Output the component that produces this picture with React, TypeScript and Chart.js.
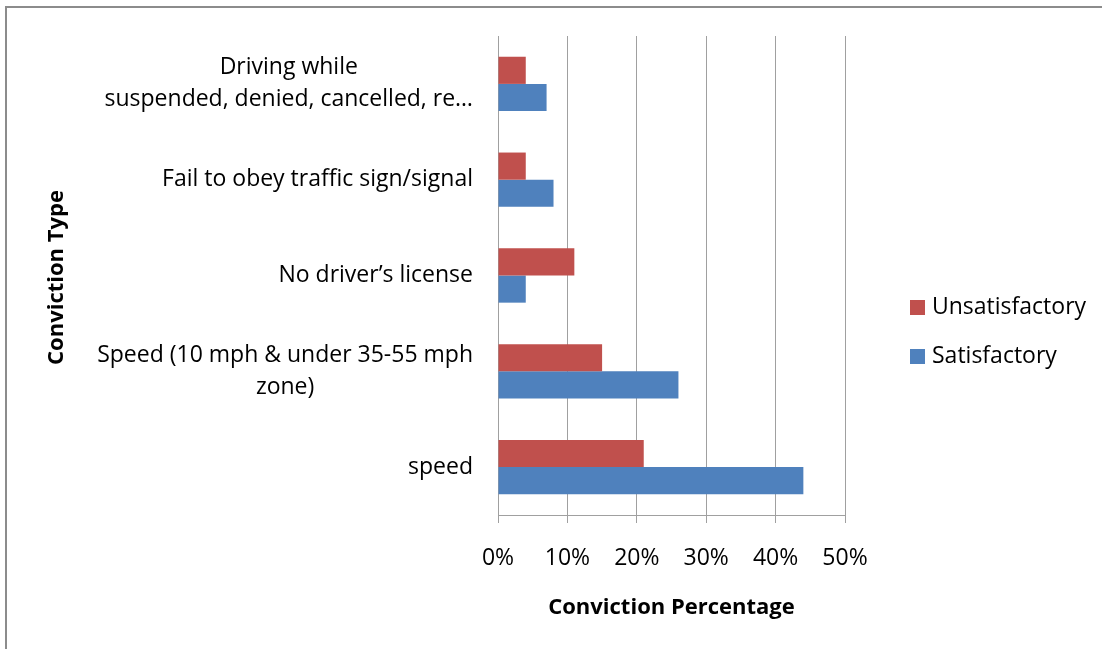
import React, { useEffect, useRef } from "react";
import { Chart, registerables } from "chart.js";

Chart.register(...registerables);

const categoryLines: string[][] = [
  ["Driving while", "suspended, denied, cancelled, re…"],
  ["Fail to obey traffic sign/signal"],
  ["No driver’s license"],
  ["Speed (10 mph & under 35-55 mph", "zone)"],
  ["speed"],
];
const categories = categoryLines.map((l) => l.join(" "));
const seriesNames = ["Unsatisfactory", "Satisfactory"];
const unsatisfactory = [4, 4, 11, 15, 21];
const satisfactory = [7, 8, 4, 26, 44];
const seriesColors = ["#C0504D", "#4F81BD"];
const xTicks = [0, 10, 20, 30, 40, 50];
const xTitle = "Conviction Percentage";
const yTitle = "Conviction Type";

const FONT = "'Open Sans', Lato, sans-serif";
const FS = 23;
const FSB = 22;

const decor = {
  id: "decor",
  beforeDraw(chart: any) {
    const ctx = chart.ctx;
    ctx.save();
    ctx.fillStyle = "#ffffff";
    ctx.fillRect(0, 0, chart.width, chart.height);
    ctx.strokeStyle = "#8c8c8c";
    ctx.lineWidth = 2;
    ctx.beginPath();
    ctx.moveTo(6, chart.height + 5);
    ctx.lineTo(6, 7);
    ctx.lineTo(chart.width + 5, 7);
    ctx.stroke();
    ctx.restore();
  },
  afterDraw(chart: any) {
    const ctx = chart.ctx;
    const y = chart.scales.y;
    const area = chart.chartArea;
    ctx.save();
    ctx.fillStyle = "#000";
    ctx.font = `${FS}px ${FONT}`;
    ctx.textAlign = "center";
    ctx.textBaseline = "middle";
    categoryLines.forEach((lines, i) => {
      const cy = y.getPixelForTick(i);
      const maxW = Math.max(...lines.map((l) => ctx.measureText(l).width));
      const cx = area.left - 25 - maxW / 2;
      lines.forEach((ln, j) => {
        ctx.fillText(ln, cx, cy + (j - (lines.length - 1) / 2) * 32);
      });
    });
    // y title
    ctx.save();
    ctx.translate(57, (area.top + area.bottom) / 2 + 2);
    ctx.rotate(-Math.PI / 2);
    ctx.font = `bold ${FSB}px ${FONT}`;
    ctx.fillText(yTitle, 0, 0);
    ctx.restore();
    // legend
    ctx.textAlign = "left";
    ctx.font = `${FS}px ${FONT}`;
    const legendY = [307, 356];
    seriesNames.forEach((name, i) => {
      ctx.fillStyle = seriesColors[i];
      ctx.fillRect(910, legendY[i] - 7, 15, 15);
      ctx.fillStyle = "#000";
      ctx.fillText(name, 932, legendY[i]);
    });
    ctx.restore();
  },
};

export default function App() {
  const ref = useRef<HTMLCanvasElement>(null);
  useEffect(() => {
    if (!ref.current) return;
    const chart = new Chart(ref.current, {
      type: "bar",
      data: {
        labels: categories,
        datasets: [
          {
            label: seriesNames[0],
            data: unsatisfactory,
            backgroundColor: seriesColors[0],
            borderWidth: 0,
          },
          {
            label: seriesNames[1],
            data: satisfactory,
            backgroundColor: seriesColors[1],
            borderWidth: 0,
          },
        ],
      },
      options: {
        indexAxis: "y",
        animation: false,
        responsive: false,
        devicePixelRatio: 1,
        layout: { padding: { left: 498, right: 257, top: 36, bottom: 28 } },
        datasets: { bar: { categoryPercentage: 0.567, barPercentage: 1 } },
        plugins: { legend: { display: false }, tooltip: { enabled: false } },
        scales: {
          x: {
            min: 0,
            max: 50,
            afterBuildTicks: (s: any) => {
              s.ticks = xTicks.map((v) => ({ value: v }));
            },
            grid: { color: "#a0a0a0", lineWidth: 1, drawTicks: true, tickLength: 8, tickColor: "#a0a0a0" },
            border: { display: true, color: "#a0a0a0", width: 1 },
            ticks: {
              padding: 22,
              color: "#000",
              font: { family: FONT, size: FS },
              callback: (v: any) => `${v}%`,
            },
            title: {
              display: true,
              text: xTitle,
              color: "#000",
              font: { family: FONT, size: FSB, weight: "bold" },
              padding: { top: 0, bottom: 0 },
            },
          },
          y: {
            grid: { display: false, drawTicks: false },
            border: { display: true, color: "#a0a0a0", width: 1 },
            ticks: { display: false },
            afterFit: (s: any) => {
              s.width = 0;
            },
          },
        },
      },
      plugins: [decor],
    });
    return () => chart.destroy();
  }, []);
  return (
    <div style={{ position: "absolute", left: 0, top: 0, width: 1102, height: 649, background: "#fff" }}>
      <canvas ref={ref} width={1102} height={649} />
    </div>
  );
}
